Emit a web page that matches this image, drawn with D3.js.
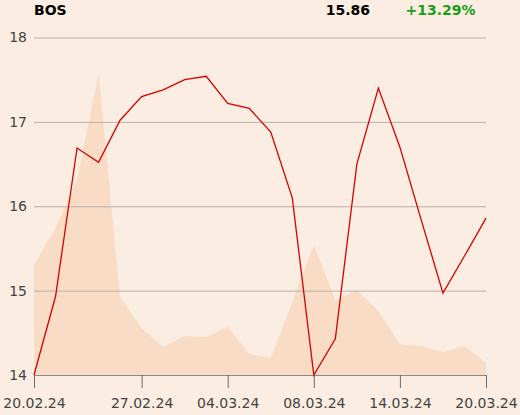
<!DOCTYPE html>
<html>
<head>
<meta charset="utf-8">
<script src="https://cdn.jsdelivr.net/npm/d3@7"></script>
<style>
  html, body { margin: 0; padding: 0; background: #fbede1; }
  svg { display: block; font-family: "DejaVu Sans", sans-serif; }
</style>
</head>
<body>
<div id="chart"></div>
<script>
let svgWidth = 520;
let svgHeight = 415;

let margin = { top: 37.5, right: 34, bottom: 40, left: 34 };
let width = 486 - margin.left;
let height = 375 - margin.top;

// trading days
let days = ["20.02.24", "21.02.24", "22.02.24", "23.02.24", "26.02.24", "27.02.24",
  "28.02.24", "29.02.24", "01.03.24", "04.03.24", "05.03.24", "06.03.24", "07.03.24",
  "08.03.24", "11.03.24", "12.03.24", "13.03.24", "14.03.24", "15.03.24", "18.03.24",
  "19.03.24", "20.03.24"];

let prices = [14.00, 14.93, 16.69, 16.52, 17.02, 17.30, 17.38, 17.50, 17.54, 17.22, 17.16,
  16.88, 16.10, 14.00, 14.43, 16.50, 17.40, 16.70, 15.83, 14.97, 15.41, 15.86];

let volumes = [110, 147, 195, 302, 78, 47, 28, 39, 38, 48, 21, 17, 73, 130, 75, 85, 64,
  31, 29, 23, 29, 12];

let dateTicks = ["20.02.24", "27.02.24", "04.03.24", "08.03.24", "14.03.24", "20.03.24"];
let priceTicks = [14, 15, 16, 17, 18];

let symbol = "BOS";
let lastPrice = "15.86";
let change = "+13.29%";

let svg = d3.select("#chart")
  .append("svg")
  .attr("width", svgWidth)
  .attr("height", svgHeight);

let chartGroup = svg.append("g")
  .attr("transform", `translate(${margin.left}, ${margin.top})`);

let xScale = d3.scalePoint()
  .domain(days)
  .range([0, width]);

let yScale = d3.scaleLinear()
  .domain([14, 18])
  .range([height, 0]);

let volScale = d3.scaleLinear()
  .domain([0, 337.5])
  .range([height, 0]);

// volume area
let area = d3.area()
  .x((d, i) => xScale(days[i]))
  .y0(height)
  .y1(d => volScale(d));

chartGroup.append("path")
  .datum(volumes)
  .attr("d", area)
  .attr("fill", "#f8dcc6");

// gridlines + y labels
let yAxis = d3.axisLeft(yScale)
  .tickValues(priceTicks)
  .tickSize(-width)
  .tickPadding(7)
  .tickFormat(d3.format("d"));

let yG = chartGroup.append("g").call(yAxis);
yG.select(".domain").remove();
yG.selectAll(".tick line").attr("stroke", "#b8b2ab");
yG.selectAll(".tick text")
  .attr("fill", "#444")
  .style("font-size", "14px")
  .style("font-family", "DejaVu Sans");

// x axis
let xAxis = d3.axisBottom(xScale)
  .tickValues(dateTicks)
  .tickSize(13)
  .tickSizeOuter(0)
  .tickPadding(10);

let xG = chartGroup.append("g")
  .attr("transform", `translate(0, ${height})`)
  .call(xAxis);
xG.select(".domain").attr("stroke", "#8c8883");
xG.selectAll(".tick line").attr("stroke", "#6e6a66");
xG.selectAll(".tick text")
  .attr("fill", "#444")
  .style("font-size", "14px")
  .style("font-family", "DejaVu Sans");

// price line
let line = d3.line()
  .x((d, i) => xScale(days[i]))
  .y(d => yScale(d));

chartGroup.append("path")
  .datum(prices)
  .attr("d", line)
  .attr("fill", "none")
  .attr("stroke", "#d90000")
  .attr("stroke-width", 1.3)
  .attr("stroke-linejoin", "miter");

// header
svg.append("text")
  .attr("x", 34)
  .attr("y", 15)
  .attr("font-size", "14px")
  .attr("font-weight", "bold")
  .attr("fill", "#000")
  .text(symbol);

svg.append("text")
  .attr("x", 370)
  .attr("y", 15)
  .attr("text-anchor", "end")
  .attr("font-size", "14px")
  .attr("font-weight", "bold")
  .attr("fill", "#000")
  .text(lastPrice);

svg.append("text")
  .attr("x", 475.5)
  .attr("y", 15)
  .attr("text-anchor", "end")
  .attr("font-size", "14px")
  .attr("font-weight", "bold")
  .attr("fill", "#1a9e1a")
  .text(change);
</script>
</body>
</html>
